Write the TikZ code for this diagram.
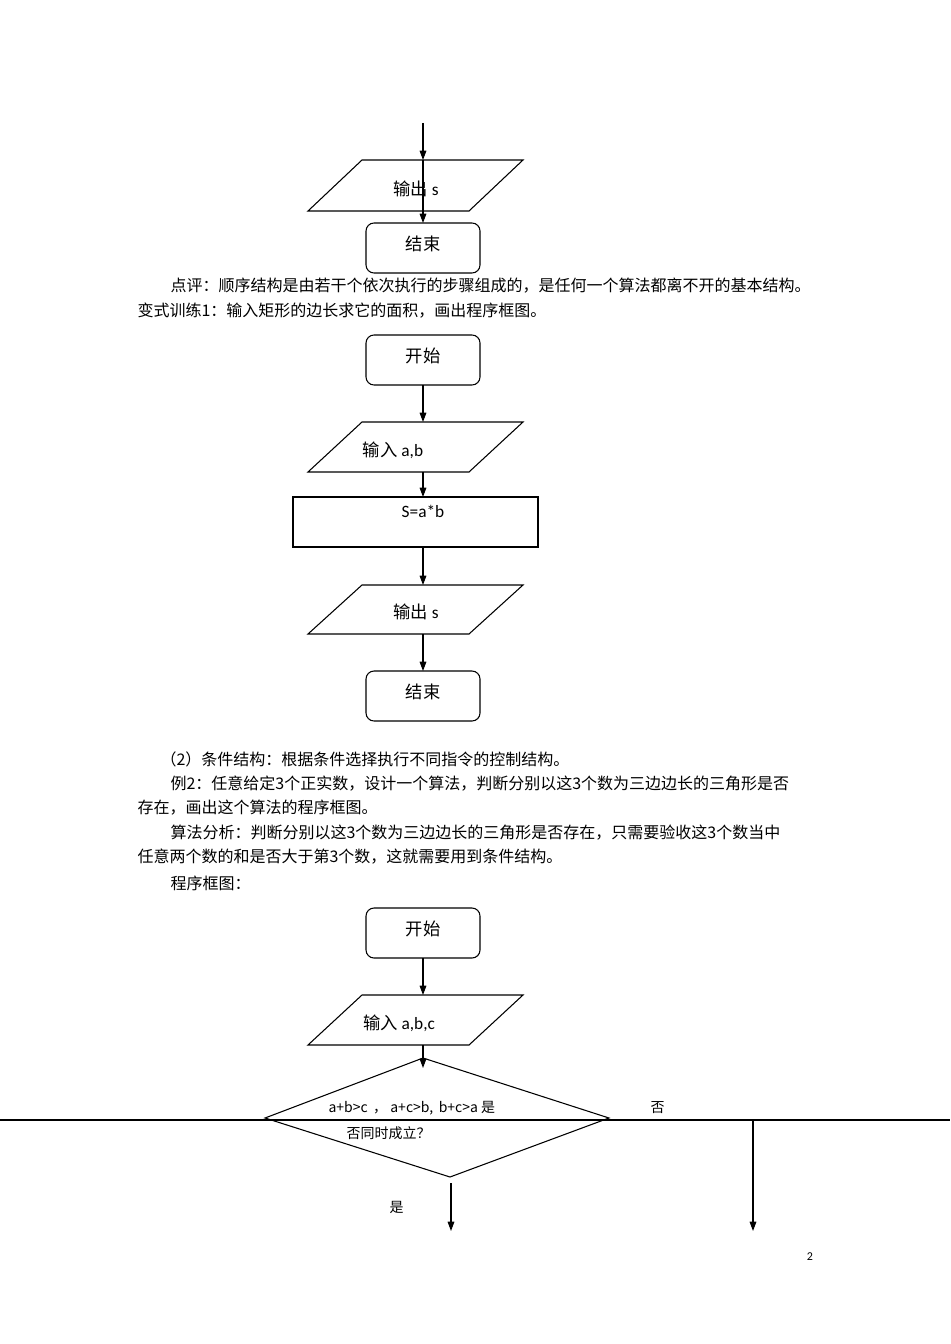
\documentclass[tikz,border=0pt]{standalone}
\usepackage{fontspec}
\setmainfont{Carlito}
\newfontfamily\cjk{Noto Sans CJK SC}
\usetikzlibrary{arrows.meta}
\begin{document}
\begin{tikzpicture}[x=0.75pt,y=-0.75pt,
  line width=0.8pt,
  arr/.style={-{Triangle[length=7pt,width=5pt]}},
  rbox/.style={draw,rounded corners=6pt},
  txt/.style={font=\fontsize{12}{14}\selectfont\cjk,anchor=west,inner sep=0pt},
  lbl/.style={font=\fontsize{13}{15}\selectfont,inner sep=0pt}]
\useasboundingbox (0,0) rectangle (950,1344);
\fill[white] (0,0) rectangle (950,1344);
% top fragment
\coordinate (t0) at (423,123);
\draw (362,160) coordinate (p1t) -- (523,160) -- (469,211) -- (308,211) -- cycle;
\node[lbl] (p1) at (416,189) {{\cjk 输出} s};
\draw[rbox] (366,223) rectangle (480,273);
\node[lbl] (e1) at (423,244) {\cjk 结束};
\coordinate (p1top) at (423,160);
\coordinate (e1top) at (423,223);
\draw[arr] (t0) -- (p1top);
\draw[arr] (p1top) -- (e1top);
% text
\node[txt] (l1) at (170,286) {点评：顺序结构是由若干个依次执行的步骤组成的，是任何一个算法都离不开的基本结构。};
\node[txt] (l2) at (137,311) {变式训练1：输入矩形的边长求它的面积，画出程序框图。};
% second chart
\draw[rbox] (366,335) rectangle (480,385);
\node[lbl] (s2) at (423,356) {\cjk 开始};
\draw (362,422) -- (523,422) -- (469,472) -- (308,472) -- cycle;
\node[lbl] (in2) at (393,450) {{\cjk 输入} a,b};
\draw (293,497) rectangle (538,547);
\node[lbl] (pr2) at (423,511) {S=a*b};
\draw (362,585) -- (523,585) -- (469,634) -- (308,634) -- cycle;
\node[lbl] (o2) at (416,612) {{\cjk 输出} s};
\draw[rbox] (366,671) rectangle (480,721);
\node[lbl] (e2) at (423,692) {\cjk 结束};
\draw[arr] (423,385) coordinate (a1) -- (423,422) coordinate (a2);
\draw[arr] (423,472) coordinate (a3) -- (423,497) coordinate (a4);
\draw[arr] (423,547) coordinate (a5) -- (423,585) coordinate (a6);
\draw[arr] (423,634) coordinate (a7) -- (423,671) coordinate (a8);
% text block
\node[txt] (m1) at (160,759) {（2）条件结构：根据条件选择执行不同指令的控制结构。};
\node[txt] (m2) at (170,784) {例2：任意给定3个正实数，设计一个算法，判断分别以这3个数为三边边长的三角形是否};
\node[txt] (m3) at (137,808) {存在，画出这个算法的程序框图。};
\node[txt] (m4) at (170,833) {算法分析：判断分别以这3个数为三边边长的三角形是否存在，只需要验收这3个数当中};
\node[txt] (m5) at (137,857) {任意两个数的和是否大于第3个数，这就需要用到条件结构。};
\node[txt] (m6) at (170,883) {程序框图：};
% third chart
\draw[rbox] (366,908) rectangle (480,958);
\node[lbl] (s3) at (423,929) {\cjk 开始};
\draw (362,995) -- (523,995) -- (469,1045) -- (308,1045) -- cycle;
\node[lbl] (in3) at (399,1023) {{\cjk 输入} a,b,c};
\draw[arr] (423,958) coordinate (b1) -- (423,995) coordinate (b2);
\draw (0,1120) coordinate (hl) -- (950,1120) coordinate (hr);
\draw (423,1058) coordinate (dt) -- (609,1118) coordinate (dr) -- (450,1177) coordinate (db) -- (265,1118) coordinate (dl) -- cycle;
\draw[arr] (423,1045) coordinate (b3) -- (423,1068) coordinate (b4);
\node[txt,font=\fontsize{10.5}{12}\selectfont\cjk] (q1) at (328,1108) {a+b>c \,， a+c>b,\, b+c>a 是};
\node[txt,font=\fontsize{10.5}{12}\selectfont\cjk] (q2) at (346,1133) {否同时成立？};
\node[txt,font=\fontsize{10.5}{12}\selectfont\cjk] (no) at (650,1108) {否};
\node[txt,font=\fontsize{10.5}{12}\selectfont\cjk] (yes) at (389,1207) {是};
\draw[arr] (451,1183) coordinate (y1) -- (451,1231) coordinate (y2);
\draw[arr] (753,1120) coordinate (n1) -- (753,1231) coordinate (n2);
\node[font=\fontsize{9}{10}\selectfont] (pg) at (810,1257) {2};
\end{tikzpicture}
\end{document}
